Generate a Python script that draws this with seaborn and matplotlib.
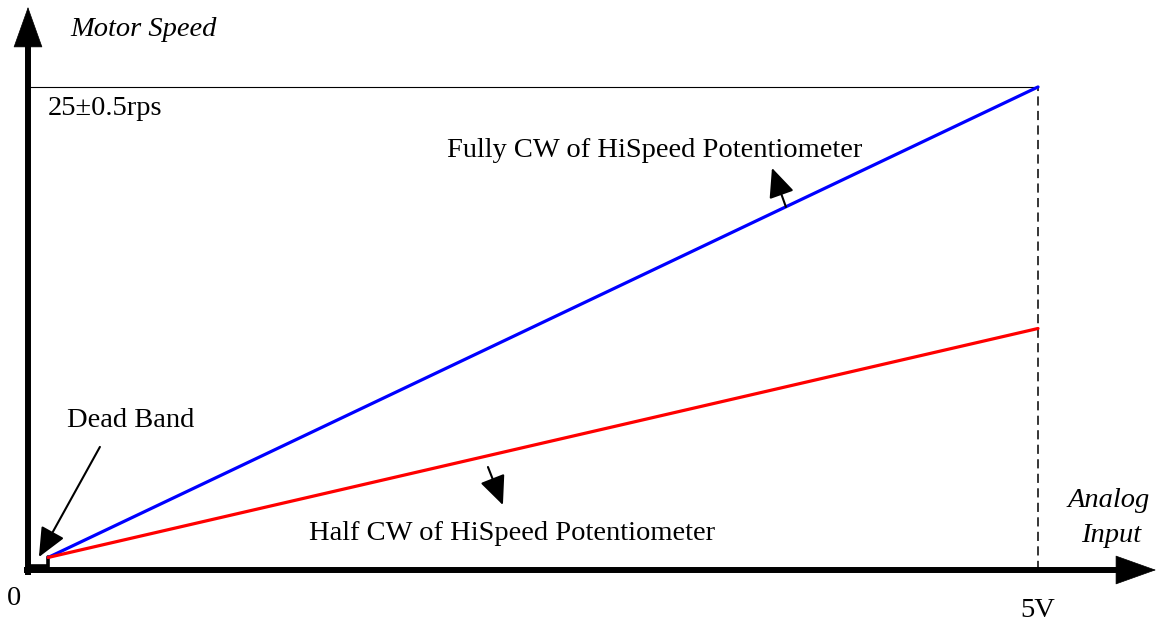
import matplotlib
matplotlib.use("Agg")
import matplotlib.pyplot as plt
import seaborn as sns
import pandas as pd

# values
analog_input = [0.1, 5.0]          # V (dead band end, full scale)
fully_cw_speed = [0.65, 25.0]      # rps
half_cw_speed = [0.65, 12.5]       # rps
max_speed = 25.0
full_scale = 5.0
dead_band = 0.1

sns.set_theme(style="white")
plt.rcParams['font.family'] = ['Liberation Serif', 'DejaVu Serif']
plt.rcParams['text.color'] = 'black'

df = pd.DataFrame({
    "input": analog_input * 2,
    "speed": fully_cw_speed + half_cw_speed,
    "curve": ["full"] * 2 + ["half"] * 2,
})

fig = plt.figure(figsize=(11.57, 6.23), dpi=100)
ax = fig.add_axes([0, 0, 1, 1])
ax.set_xlim(-0.1386, 5.589)
ax.set_ylim(-2.743, 29.5)
ax.axis("off")

sns.lineplot(data=df, x="input", y="speed", hue="curve",
             palette={"full": "#0000ff", "half": "#ff0000"},
             linewidth=2.3, legend=False, ax=ax, zorder=3)

# axes: thick shafts plus sharp triangular heads
ax.plot([0, 0], [-0.26, 27.5], color="black", lw=4.3, solid_capstyle="butt")
ax.plot([-0.02, 5.45], [0, 0], color="black", lw=4.3, solid_capstyle="butt")
head = dict(arrowstyle="-|>,head_length=2.8,head_width=1.0",
            mutation_scale=10, lw=0.5, color="black", shrinkA=0, shrinkB=0)
ax.annotate("", xy=(0, 29.14), xytext=(0, 26.5), arrowprops=head)
ax.annotate("", xy=(5.584, 0), xytext=(5.4, 0), arrowprops=head)

# dead band step
ax.plot([0, dead_band, dead_band], [0.2, 0.2, fully_cw_speed[0]],
        color="black", lw=2.6, solid_joinstyle="miter", zorder=2)

# max speed guide and full scale dashed guide
ax.plot([0, full_scale], [max_speed, max_speed], color="black", lw=0.8)
ax.plot([full_scale, full_scale], [0, max_speed], color="black", lw=1.1,
        dashes=(6, 3.5))

fs = 20.5
ax.text(0.208, 27.64, "Motor Speed", fontsize=fs, style="italic", va="baseline")
ax.text(0.099, 23.55, "25±0.5rps", fontsize=fs, va="baseline")
ax.text(3.1, 21.38, "Fully CW of HiSpeed Potentiometer", fontsize=fs,
        ha="center", va="baseline")
ax.text(0.193, 7.40, "Dead Band", fontsize=fs, va="baseline")
ax.text(1.391, 1.55, "Half CW of HiSpeed Potentiometer", fontsize=fs,
        va="baseline")
ax.text(5.35, 3.26, "Analog", fontsize=fs, style="italic", ha="center",
        va="baseline")
ax.text(5.36, 1.45, "Input", fontsize=fs, style="italic", ha="center",
        va="baseline")
ax.text(-0.069, -1.81, "0", fontsize=fs, ha="center", va="baseline")
ax.text(5.0, -2.43, "5V", fontsize=fs, ha="center", va="baseline")

small = dict(arrowstyle="-|>,head_length=1.8,head_width=0.8",
             mutation_scale=10, lw=1.5, color="black", shrinkA=0, shrinkB=0)
ax.annotate("", xy=(3.683, 20.81), xytext=(3.752, 18.79), arrowprops=small)
ax.annotate("", xy=(2.351, 3.36), xytext=(2.277, 5.33), arrowprops=small)
ax.annotate("", xy=(0.054, 0.67), xytext=(0.356, 6.37), arrowprops=small)

fig.savefig("out.png", dpi=100)
